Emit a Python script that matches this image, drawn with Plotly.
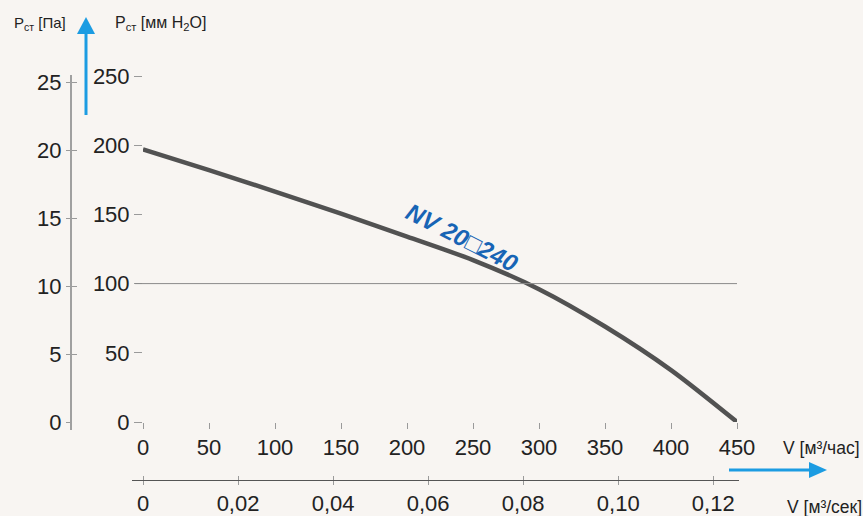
import plotly.graph_objects as go

# ---- data ----
flow_m3h = [0, 50, 100, 150, 200, 250, 300, 350, 400, 450]
pressure = [197, 182, 166.5, 150.5, 134, 117, 96, 69, 37.5, 0]
x_ticks = [0, 50, 100, 150, 200, 250, 300, 350, 400, 450]
y_ticks = [0, 50, 100, 150, 200, 250]
y2_ticks = [0, 5, 10, 15, 20, 25]
flow_m3s_ticks = [0, 0.02, 0.04, 0.06, 0.08, 0.10, 0.12]
flow_m3s_labels = ["0", "0,02", "0,04", "0,06", "0,08", "0,10", "0,12"]
ref_pressure = 100
curve_label = "NV 20□240"

W, H = 863, 516
def px(x):
    return x / W
def py(y):
    return 1 - y / H

BG = "#f8f5f2"
TXT = "#222222"
TICK = "#9a9a9a"
BLUE = "#1c9ce2"
FONT = "Liberation Sans, Arial, sans-serif"

fig = go.Figure()
fig.add_trace(go.Scatter(x=flow_m3h, y=pressure, mode="lines",
                         line=dict(color="#525252", width=4.5, shape="spline", smoothing=0.8),
                         hoverinfo="skip", xaxis="x", yaxis="y"))
fig.add_trace(go.Scatter(x=[None], y=[None], xaxis="x", yaxis="y2", showlegend=False))
fig.add_trace(go.Scatter(x=[None], y=[None], xaxis="x", yaxis="y3", showlegend=False))
fig.add_trace(go.Scatter(x=[None], y=[None], xaxis="x2", yaxis="y", showlegend=False))
fig.add_trace(go.Scatter(x=[None], y=[None], xaxis="x3", yaxis="y", showlegend=False))

# scale of the bottom axis: 1.32 px per m3/h -> 4752 px per m3/s
k = 594 / 450 * 3600
x2_range = [(132 - 143) / k, (739 - 143) / k]

common_ax = dict(showgrid=False, zeroline=False, tickcolor=TICK, tickwidth=1,
                 automargin=False,
                 tickfont=dict(size=22, color=TXT, family=FONT))
plain_ax = dict(showticklabels=False, showline=False, showgrid=False, zeroline=False,
                tickcolor=TICK, automargin=False)

fig.update_layout(
    template="none",
    width=W, height=H, margin=dict(l=0, r=0, t=0, b=0, pad=0), autosize=False,
    paper_bgcolor=BG, plot_bgcolor="rgba(0,0,0,0)", showlegend=False,
    font=dict(family=FONT, color=TXT),
    xaxis=dict(domain=[px(143), px(737)], range=[0, 450], anchor="y",
               tickvals=x_ticks, ticks="outside", ticklen=6, showline=False, **common_ax),
    yaxis=dict(domain=[py(422), py(76)], range=[0, 250], anchor="x",
               tickvals=y_ticks, ticks="outside", ticklen=8, showline=False, **common_ax),
    yaxis2=dict(overlaying="y", anchor="free", position=px(71), side="left",
                range=[0, 346 / 13.6], tickvals=y2_ticks, ticks="outside", ticklen=5,
                showline=False, **common_ax),
    yaxis3=dict(overlaying="y", anchor="free", position=px(71), side="left",
                range=[0, 346 / 13.6], tickvals=y2_ticks, ticks="inside", ticklen=5,
                **plain_ax),
    xaxis2=dict(domain=[px(132), px(739)], anchor="free", position=py(480),
                range=x2_range, tickvals=flow_m3s_ticks, ticktext=flow_m3s_labels,
                ticks="outside", ticklen=4, showline=True, linecolor="#555555", linewidth=1,
                **common_ax),
    xaxis3=dict(domain=[px(132), px(739)], anchor="free", position=py(480),
                range=x2_range, tickvals=flow_m3s_ticks, ticks="inside", ticklen=4,
                **plain_ax),
)

# left axis line
fig.add_shape(type="line", xref="paper", yref="paper", x0=px(71), x1=px(71),
              y0=py(75), y1=py(430), line=dict(color="#a0a0a0", width=2))
# reference line at 100
fig.add_shape(type="line", xref="paper", yref="y", x0=px(135), x1=px(737),
              y0=ref_pressure, y1=ref_pressure, line=dict(color="#8a8a8a", width=1))

# blue arrows (shaft + head)
fig.add_shape(type="line", xref="paper", yref="paper", x0=px(86), x1=px(86),
              y0=py(115), y1=py(32), line=dict(color=BLUE, width=3))
fig.add_shape(type="path", xref="paper", yref="paper",
              path=f"M {px(77)} {py(34)} L {px(86)} {py(17)} L {px(95)} {py(34)} Z",
              fillcolor=BLUE, line=dict(width=0))
fig.add_shape(type="line", xref="paper", yref="paper", x0=px(729), x1=px(812),
              y0=py(470), y1=py(470), line=dict(color=BLUE, width=3))
fig.add_shape(type="path", xref="paper", yref="paper",
              path=f"M {px(809)} {py(462)} L {px(827)} {py(470)} L {px(809)} {py(478)} Z",
              fillcolor=BLUE, line=dict(width=0))

# axis titles
def label(text, x, y, size=15, xanchor="center"):
    fig.add_annotation(xref="paper", yref="paper", x=px(x), y=py(y), text=text,
                       showarrow=False, xanchor=xanchor, yanchor="middle",
                       font=dict(size=size, color=TXT, family=FONT))

label("P<sub>ст</sub> [Па]", 12, 24, xanchor="left")
label("P<sub>ст</sub> [мм H<sub>2</sub>O]", 113, 24, size=16, xanchor="left")
label("V [м³/час]", 781, 448, size=17.5, xanchor="left")
label("V [м³/сек]", 785, 507, size=17.5, xanchor="left")

# curve label
fig.add_annotation(xref="paper", yref="paper", x=px(462), y=py(238),
                   text="<b><i>" + curve_label + "</i></b>", showarrow=False,
                   textangle=27, font=dict(size=24, color="#1764b5",
                                           family="Liberation Sans, DejaVu Sans, sans-serif"))

fig.write_html("out.html", config={"displayModeBar": False},
               post_script="document.body.style.margin='0';document.body.style.overflow='hidden';")
